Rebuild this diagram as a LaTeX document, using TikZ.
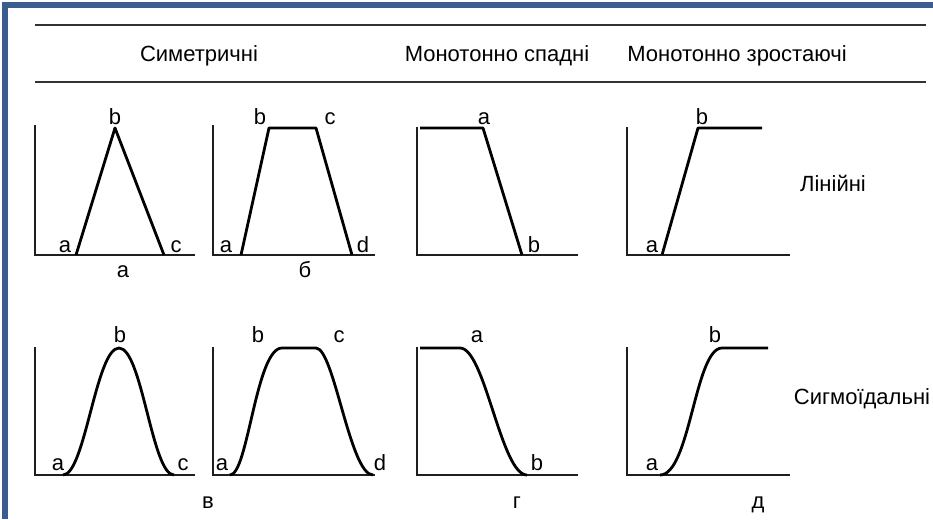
\documentclass[tikz,border=0pt]{standalone}
\usepackage{fontspec}
\setmainfont{Liberation Sans}
\definecolor{frameblue}{RGB}{58,93,143}
\definecolor{rulegray}{RGB}{50,50,50}
\begin{document}
\begin{tikzpicture}[x=1pt,y=-1pt,
  lbl/.style={anchor=base,inner sep=0pt,font=\fontsize{22}{26}\selectfont},
  axis/.style={line width=2.2pt,draw=black!88},
  curve/.style={line width=2.8pt,draw=black,line join=round},
  hrule/.style={line width=2.2pt,draw=rulegray}]
\useasboundingbox (0,0) rectangle (933,519);
\fill[white] (0,0) rectangle (933,519);
% frame
\fill[frameblue] (2,2.5) rectangle (933,8);
\fill[frameblue] (2,2.5) rectangle (7.5,519);
% header rules
\draw[hrule] (35,25) -- (926,25);
\draw[hrule] (35,82) -- (926,82);
\node[lbl] (h1) at (199,62) {Симетричні};
\node[lbl] (h2) at (497,62) {Монотонно спадні};
\node[lbl] (h3) at (737,62) {Монотонно зростаючі};
% ---------------- row 1 ----------------
% plot 1 triangle
\draw[axis] (35,125) -- (35,255) -- (195,255);
\draw[curve] (76,255) -- (115,128) -- (164,255);
\node[lbl] (r1p1b) at (115,124) {b};
\node[lbl] (r1p1a) at (65,252) {a};
\node[lbl] (r1p1c) at (176,252) {c};
\node[lbl] (capA) at (123,277) {а};
% plot 2 trapezoid
\draw[axis] (213,125) -- (213,255) -- (375,255);
\draw[curve] (241,255) -- (269,128) -- (316,128) -- (352,255);
\node[lbl] (r1p2b) at (260,124) {b};
\node[lbl] (r1p2c) at (330,124) {c};
\node[lbl] (r1p2a) at (226,252) {a};
\node[lbl] (r1p2d) at (363,252) {d};
\node[lbl] (capB) at (305,277) {б};
% plot 3 decreasing
\draw[axis] (417,127) -- (417,255) -- (578,255);
\draw[curve] (420,128) -- (483,128) -- (522,255);
\node[lbl] (r1p3a) at (484,124) {a};
\node[lbl] (r1p3b) at (534,252) {b};
% plot 4 increasing
\draw[axis] (627,127) -- (627,255) -- (790,255);
\draw[curve] (662,255) -- (698,128) -- (762,128);
\node[lbl] (r1p4b) at (702,124) {b};
\node[lbl] (r1p4a) at (652,252) {a};
\node[lbl] (lin) at (833,191) {Лінійні};
% ---------------- row 2 ----------------
% plot 1 bell
\draw[axis] (35,347) -- (35,475) -- (195,475);
\draw[curve] (63,475) .. controls (85,475) and (96,348) .. (119,348)
  .. controls (142,348) and (152,475) .. (174,475);
\node[lbl] (r2p1b) at (120,342) {b};
\node[lbl] (r2p1a) at (58,470) {a};
\node[lbl] (r2p1c) at (183,470) {c};
\node[lbl] (capV) at (208,508) {в};
% plot 2 sigmoid trapezoid
\draw[axis] (213,347) -- (213,475) -- (375,475);
\draw[curve] (230,475) .. controls (248,475) and (256,348) .. (282,348)
  -- (316,348) .. controls (334,348) and (350,475) .. (373,475);
\node[lbl] (r2p2b) at (258,342) {b};
\node[lbl] (r2p2c) at (339,342) {c};
\node[lbl] (r2p2a) at (222,470) {a};
\node[lbl] (r2p2d) at (380,470) {d};
% plot 3 decreasing sigmoid
\draw[axis] (417,347) -- (417,475) -- (578,475);
\draw[curve] (420,348) -- (460,348) .. controls (485,348) and (501,475) .. (527,475);
\node[lbl] (r2p3a) at (477,342) {a};
\node[lbl] (r2p3b) at (537,470) {b};
\node[lbl] (capG) at (517,508) {г};
% plot 4 increasing sigmoid
\draw[axis] (627,347) -- (627,475) -- (790,475);
\draw[curve] (660,475) .. controls (690,475) and (695,348) .. (722,348) -- (768,348);
\node[lbl] (r2p4b) at (715,342) {b};
\node[lbl] (r2p4a) at (652,470) {a};
\node[lbl] (capD) at (758,508) {д};
\node[lbl] (sig) at (862,404) {Сигмоїдальні};
\end{tikzpicture}
\end{document}
